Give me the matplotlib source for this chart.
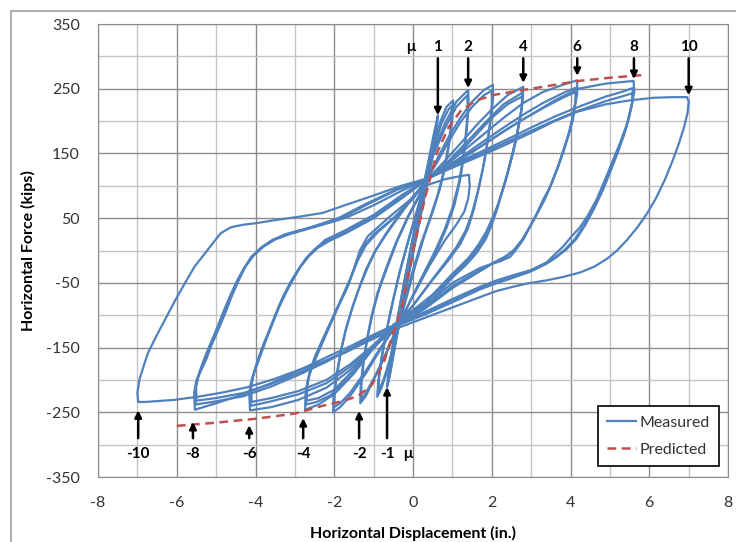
import numpy as np
import matplotlib.pyplot as plt

plt.rcParams['font.family'] = ['Lato', 'DejaVu Sans']
plt.rcParams['axes.unicode_minus'] = False

# measured hysteresis, one list of (displacement in., force kips) per cycle
c1a = [(-0.2, -60), (0.0, 0), (0.2, 65), (0.4, 130), (0.55, 180), (0.63, 209), (0.6, 185), (0.5, 145),
       (0.35, 100), (0.15, 40), (-0.05, -20), (-0.25, -80), (-0.45, -145), (-0.58, -190), (-0.66, -211),
       (-0.62, -185), (-0.5, -140), (-0.35, -90), (-0.2, -40), (0.0, 20), (0.2, 80)]
c1b = [(0.2, 80), (0.38, 135), (0.52, 178), (0.6, 200), (0.58, 178), (0.47, 140), (0.3, 90), (0.1, 30),
       (-0.1, -30), (-0.3, -95), (-0.48, -155), (-0.6, -195), (-0.63, -203), (-0.58, -175), (-0.45, -125),
       (-0.3, -75), (-0.1, -10), (0.1, 55), (0.3, 110)]
c15a = [(0.3, 110), (0.5, 160), (0.7, 200), (0.85, 222), (1.02, 232), (1.0, 205), (0.93, 170), (0.82, 130),
        (0.68, 95), (0.5, 60), (0.3, 25), (0.05, -25), (-0.2, -80), (-0.45, -140), (-0.65, -185),
        (-0.8, -212), (-0.91, -226), (-0.88, -200), (-0.8, -165), (-0.68, -125), (-0.52, -80),
        (-0.35, -35), (-0.1, 20), (0.15, 70), (0.3, 100)]
c15b = [(0.3, 100), (0.5, 152), (0.72, 196), (0.9, 218), (0.99, 224), (0.97, 198), (0.9, 162), (0.78, 122),
        (0.62, 85), (0.42, 48), (0.2, 10), (-0.05, -40), (-0.3, -100), (-0.55, -160), (-0.75, -200),
        (-0.88, -218), (-0.86, -195), (-0.77, -158), (-0.64, -115), (-0.48, -70), (-0.3, -25),
        (-0.05, 30), (0.3, 105)]
c2a = [(0.2, 90), (0.5, 150), (0.8, 195), (1.1, 230), (1.4, 248), (1.41, 225), (1.37, 190), (1.3, 150),
       (1.2, 110), (1.05, 70), (0.85, 35), (0.6, 0), (0.3, -35), (0.0, -70), (-0.4, -118), (-0.7, -160),
       (-1.0, -200), (-1.2, -225), (-1.34, -236), (-1.33, -210), (-1.27, -175), (-1.18, -140),
       (-1.05, -100), (-0.9, -65), (-0.7, -30), (-0.45, 10), (-0.15, 50), (0.2, 90)]
c2b = [(0.2, 90), (0.5, 145), (0.8, 188), (1.1, 222), (1.38, 240), (1.39, 215), (1.34, 180), (1.27, 142),
       (1.16, 104), (1.0, 66), (0.8, 32), (0.55, -2), (0.25, -38), (-0.05, -75), (-0.4, -120),
       (-0.72, -165), (-1.0, -198), (-1.2, -220), (-1.32, -230), (-1.31, -205), (-1.25, -170),
       (-1.15, -133), (-1.02, -95), (-0.86, -60), (-0.65, -25), (-0.4, 15), (-0.1, 55), (0.2, 90)]
c2c = [(-0.1, 55), (0.3, 100), (0.8, 110), (1.2, 115), (1.42, 117), (1.44, 100), (1.4, 80), (1.3, 60),
       (1.1, 40), (0.8, 15), (0.4, -25), (0.0, -70)]
c3a = [(0.3, 105), (0.6, 140), (0.9, 175), (1.2, 205), (1.5, 230), (1.8, 248), (2.03, 256), (2.03, 235),
       (1.98, 205), (1.9, 170), (1.8, 135), (1.68, 100), (1.55, 65), (1.4, 35), (1.2, 10), (0.9, -15),
       (0.5, -45), (0.0, -85), (-0.4, -112), (-0.8, -150), (-1.2, -190), (-1.6, -225), (-1.85, -242),
       (-2.03, -250), (-2.02, -225), (-1.95, -195), (-1.85, -160), (-1.72, -125), (-1.55, -90),
       (-1.38, -60), (-1.2, -30), (-1.0, -5), (-0.7, 25), (-0.3, 60), (0.3, 105)]
c3b = [(0.3, 105), (0.6, 135), (0.9, 168), (1.2, 198), (1.5, 222), (1.8, 240), (2.0, 247), (2.0, 225),
       (1.95, 195), (1.87, 160), (1.77, 125), (1.65, 92), (1.5, 58), (1.33, 30), (1.1, 5), (0.8, -20),
       (0.4, -52), (0.0, -85), (-0.4, -113), (-0.8, -148), (-1.2, -186), (-1.6, -220), (-1.85, -236),
       (-2.0, -242), (-1.99, -218), (-1.92, -188), (-1.82, -152), (-1.69, -118), (-1.52, -84),
       (-1.35, -55), (-1.15, -26), (-0.95, 0), (-0.65, 28), (-0.25, 62), (0.3, 105)]
c4a = [(0.4, 112), (0.8, 138), (1.2, 165), (1.6, 193), (2.0, 218), (2.4, 240), (2.8, 253), (2.79, 235),
       (2.75, 217), (2.67, 190), (2.59, 166), (2.48, 140), (2.38, 114), (2.25, 88), (2.13, 63), (2.0, 40),
       (1.85, 18), (1.6, -5), (1.35, -22), (1.0, -42), (0.5, -75), (0.0, -95), (-0.5, -115), (-1.0, -150),
       (-1.5, -190), (-2.0, -222), (-2.4, -238), (-2.74, -246), (-2.73, -220), (-2.67, -200),
       (-2.59, -185), (-2.41, -158), (-2.16, -123), (-1.9, -87), (-1.65, -55), (-1.5, -28), (-1.35, 0),
       (-1.15, 22), (-0.6, 52), (0.0, 82), (0.4, 112)]
c4b = [(0.4, 112), (0.9, 138), (1.4, 170), (1.9, 202), (2.3, 226), (2.78, 244), (2.77, 225), (2.72, 205),
       (2.64, 180), (2.55, 155), (2.44, 128), (2.32, 102), (2.2, 78), (2.06, 53), (1.92, 32), (1.75, 12),
       (1.5, -8), (1.2, -28), (0.8, -52), (0.3, -82), (-0.2, -100), (-0.6, -122), (-1.1, -158),
       (-1.6, -195), (-2.1, -224), (-2.45, -234), (-2.72, -238), (-2.71, -214), (-2.64, -192),
       (-2.55, -175), (-2.38, -150), (-2.12, -115), (-1.86, -80), (-1.62, -48), (-1.45, -20),
       (-1.28, 5), (-1.0, 25), (-0.5, 50), (0.0, 80), (0.4, 112)]
c4c = [(0.4, 112), (1.0, 140), (1.5, 172), (2.0, 205), (2.4, 226), (2.77, 238), (2.76, 220), (2.7, 198),
       (2.62, 172), (2.52, 146), (2.4, 120), (2.28, 95), (2.15, 70), (2.0, 48), (1.85, 28), (1.65, 8),
       (1.4, -12), (1.0, -36), (0.5, -68), (0.0, -92), (-0.5, -115), (-1.0, -146), (-1.5, -184),
       (-2.0, -215), (-2.4, -228), (-2.7, -232), (-2.69, -210), (-2.62, -188), (-2.5, -165),
       (-2.3, -138), (-2.05, -105), (-1.8, -72), (-1.58, -42), (-1.4, -15), (-1.2, 8), (-0.9, 28),
       (-0.4, 55), (0.4, 112)]
c6a = [(0.4, 112), (1.0, 140), (1.7, 175), (2.3, 205), (2.8, 228), (3.3, 245), (3.8, 256), (4.17, 263),
       (4.17, 243), (4.1, 220), (4.06, 202), (3.95, 178), (3.81, 151), (3.65, 125), (3.48, 98),
       (3.3, 78), (3.15, 58), (2.97, 37), (2.79, 16), (2.6, 0), (2.46, -10), (2.2, -17), (2.03, -20),
       (1.7, -27), (1.0, -50), (0.3, -85), (-0.4, -115), (-1.0, -150), (-1.6, -185), (-2.2, -212),
       (-2.92, -231), (-3.6, -242), (-4.14, -247), (-4.16, -220), (-4.1, -200), (-3.98, -180),
       (-3.85, -158), (-3.73, -138), (-3.55, -110), (-3.4, -87), (-3.2, -62), (-3.0, -40),
       (-2.85, -24), (-2.67, -10), (-2.45, 4), (-2.24, 16), (-1.73, 31), (-1.0, 55), (-0.3, 85),
       (0.4, 112)]
c6b = [(0.4, 112), (1.0, 135), (1.7, 165), (2.3, 190), (2.8, 210), (3.3, 228), (3.8, 243), (4.15, 252),
       (4.14, 235), (4.08, 212), (4.0, 190), (3.86, 162), (3.7, 132), (3.52, 104), (3.35, 80),
       (3.18, 60), (3.0, 40), (2.82, 20), (2.62, 4), (2.4, -8), (2.1, -17), (1.7, -30), (1.0, -55),
       (0.3, -88), (-0.4, -115), (-1.0, -148), (-1.6, -180), (-2.2, -205), (-2.9, -222), (-3.6, -233),
       (-4.12, -240), (-4.13, -215), (-4.07, -195), (-3.95, -172), (-3.82, -150), (-3.68, -128),
       (-3.5, -100), (-3.33, -75), (-3.12, -50), (-2.92, -30), (-2.72, -12), (-2.5, 2), (-2.25, 13),
       (-1.73, 28), (-1.0, 52), (-0.3, 82), (0.4, 112)]
c6c = [(0.4, 112), (1.0, 132), (1.7, 160), (2.3, 184), (2.8, 203), (3.3, 220), (3.8, 236), (4.13, 245),
       (4.12, 228), (4.05, 205), (3.96, 182), (3.82, 155), (3.66, 126), (3.48, 98), (3.3, 74),
       (3.12, 54), (2.94, 34), (2.76, 16), (2.55, 0), (2.3, -11), (2.0, -21), (1.7, -32), (1.0, -58),
       (0.3, -90), (-0.4, -116), (-1.0, -146), (-1.6, -176), (-2.2, -200), (-2.9, -217), (-3.6, -228),
       (-4.1, -234), (-4.11, -210), (-4.04, -188), (-3.92, -165), (-3.78, -142), (-3.63, -120),
       (-3.45, -93), (-3.27, -68), (-3.06, -44), (-2.86, -25), (-2.65, -9), (-2.42, 4), (-2.15, 14),
       (-1.7, 27), (-1.0, 50), (-0.3, 80), (0.4, 112)]
c8a = [(0.4, 112), (1.0, 135), (1.7, 160), (2.4, 188), (3.0, 210), (3.6, 232), (4.2, 250), (4.9, 258),
       (5.6, 262), (5.62, 245), (5.55, 225), (5.43, 195), (5.25, 165), (5.08, 140), (4.88, 110),
       (4.67, 80), (4.45, 55), (4.24, 36), (4.0, 20), (3.81, 6), (3.6, -6), (3.4, -18), (3.0, -30),
       (2.5, -39), (2.13, -46), (1.7, -56), (1.0, -75), (0.3, -95), (-0.4, -113), (-1.0, -130),
       (-1.6, -148), (-2.2, -165), (-2.9, -185), (-3.6, -205), (-4.3, -222), (-5.0, -236),
       (-5.54, -246), (-5.56, -220), (-5.5, -200), (-5.38, -185), (-5.25, -168), (-5.13, -148),
       (-4.95, -123), (-4.77, -97), (-4.6, -70), (-4.44, -48), (-4.27, -26), (-4.11, -10), (-3.86, 4),
       (-3.6, 15), (-3.25, 25), (-2.9, 31), (-2.49, 37), (-2.0, 45), (-1.65, 52), (-1.0, 70),
       (-0.3, 92), (0.4, 112)]
c8b = [(0.4, 112), (1.0, 132), (1.7, 152), (2.4, 172), (3.0, 190), (3.6, 207), (4.2, 222), (4.9, 238),
       (5.3, 245), (5.58, 251), (5.58, 232), (5.5, 210), (5.38, 183), (5.22, 155), (5.03, 125),
       (4.83, 95), (4.6, 65), (4.38, 40), (4.15, 18), (3.9, 2), (3.65, -10), (3.4, -20), (2.97, -33),
       (2.5, -42), (2.13, -49), (1.7, -58), (1.0, -78), (0.3, -97), (-0.4, -115), (-1.0, -132),
       (-1.6, -152), (-2.2, -172), (-2.9, -192), (-3.6, -210), (-4.3, -225), (-5.0, -233),
       (-5.52, -238), (-5.53, -215), (-5.46, -195), (-5.35, -175), (-5.2, -152), (-5.03, -128),
       (-4.85, -100), (-4.66, -72), (-4.48, -48), (-4.3, -28), (-4.1, -10), (-3.85, 5), (-3.55, 17),
       (-3.2, 25), (-2.8, 32), (-2.4, 40), (-1.9, 50), (-1.2, 72), (-0.4, 95), (0.4, 112)]
c8c = [(0.4, 112), (1.0, 130), (1.7, 149), (2.4, 168), (3.0, 185), (3.6, 201), (4.2, 216), (4.9, 231),
       (5.3, 238), (5.57, 243), (5.56, 226), (5.48, 204), (5.35, 178), (5.18, 150), (4.99, 120),
       (4.79, 90), (4.56, 62), (4.33, 38), (4.1, 17), (3.85, 1), (3.6, -11), (3.35, -21), (2.9, -34),
       (2.45, -44), (2.1, -51), (1.7, -60), (1.0, -80), (0.3, -99), (-0.4, -116), (-1.0, -133),
       (-1.6, -152), (-2.2, -170), (-2.9, -189), (-3.6, -206), (-4.3, -220), (-5.0, -228),
       (-5.5, -232), (-5.51, -210), (-5.43, -190), (-5.31, -170), (-5.16, -147), (-4.99, -123),
       (-4.81, -96), (-4.62, -68), (-4.44, -45), (-4.26, -25), (-4.05, -8), (-3.8, 6), (-3.5, 17),
       (-3.15, 25), (-2.75, 32), (-2.35, 39), (-1.85, 49), (-1.2, 70), (-0.4, 94), (0.4, 112)]
c10 = [(0.4, 112), (1.0, 128), (1.7, 146), (2.3, 162), (3.0, 182), (3.6, 200), (4.2, 215), (4.9, 226),
       (5.5, 232), (6.1, 236), (6.6, 237), (6.96, 237), (7.0, 230), (6.97, 212), (6.88, 190),
       (6.75, 165), (6.6, 140), (6.4, 110), (6.18, 82), (5.94, 57), (5.7, 36), (5.43, 16), (5.18, 0),
       (4.92, -13), (4.6, -25), (4.24, -34), (3.8, -41), (3.4, -46), (2.9, -51), (2.54, -56),
       (2.1, -63), (1.7, -72), (1.0, -88), (0.3, -104), (-0.4, -120), (-1.0, -136), (-1.73, -158),
       (-2.3, -172), (-2.92, -185), (-3.5, -198), (-4.19, -211), (-4.8, -219), (-5.46, -226),
       (-6.1, -231), (-6.8, -234), (-6.98, -234), (-7.0, -220), (-6.95, -200), (-6.85, -180),
       (-6.73, -158), (-6.5, -130), (-6.3, -107), (-6.05, -78), (-5.79, -50), (-5.55, -25),
       (-5.28, -4), (-5.05, 14), (-4.88, 27), (-4.62, 36), (-4.3, 40), (-4.01, 42), (-3.5, 47),
       (-2.92, 52), (-2.3, 58), (-1.73, 70), (-1.0, 85), (-0.3, 100), (0.4, 112)]
cycles = [c1a, c1b, c15a, c15b, c2a, c2b, c2c, c3a, c3b, c4a, c4b, c4c,
          c6a, c6b, c6c, c8a, c8b, c8c, c10]

# predicted backbone
pred_x = [-6.0, -5.0, -4.0, -3.0, -2.3, -1.8, -1.4, -1.05, -0.75, -0.5, -0.3, 0.0,
          0.3, 0.6, 0.9, 1.2, 1.6, 2.1, 2.8, 3.5, 4.2, 5.0, 5.8]
pred_y = [-271, -266, -260, -252, -240, -233, -225, -208, -174, -127, -92, 0,
          80, 150, 190, 215, 232, 241, 248, 255, 262, 267, 271]

# ductility arrows
pos_labels = ['1', '2', '4', '6', '8', '10']
pos_x = [0.63, 1.40, 2.80, 4.17, 5.61, 7.0]
pos_tip = [209, 251, 259, 270, 265, 240]
neg_labels = ['-10', '-8', '-6', '-4', '-2', '-1']
neg_x = [-6.98, -5.59, -4.16, -2.79, -1.37, -0.66]
neg_tip = [-247, -265, -270, -259, -248, -211]

fig = plt.figure(figsize=(7.36, 5.42), dpi=100)
ax = fig.add_axes([0.1332, 0.1199, 0.856, 0.8358])

blue = '#4F81BD'
for i, c in enumerate(cycles):
    xy = np.array(c)
    ax.plot(xy[:, 0], xy[:, 1], color=blue, lw=1.6, zorder=3,
            label='Measured' if i == 0 else None)
ax.plot(pred_x, pred_y, color='#C0504D', lw=1.8, ls=(0, (3.5, 2.2)), zorder=4, label='Predicted')

ap = dict(arrowstyle='-|>', color='black', lw=1.8, mutation_scale=10, shrinkA=0, shrinkB=0)
for lab, x, tip in zip(pos_labels, pos_x, pos_tip):
    ax.annotate('', xy=(x, tip), xytext=(x, 297), arrowprops=ap, zorder=5)
    ax.text(x, 314, lab, ha='center', va='center', fontsize=11, fontweight='bold')
for lab, x, tip in zip(neg_labels, neg_x, neg_tip):
    ax.annotate('', xy=(x, tip), xytext=(x, -290), arrowprops=ap, zorder=5)
    ax.text(x, -314, lab, ha='center', va='center', fontsize=11, fontweight='bold')
ax.text(-0.05, 314, 'μ', ha='center', va='center', fontsize=11, fontweight='bold')
ax.text(-0.13, -314, 'μ', ha='center', va='center', fontsize=11, fontweight='bold')

ax.set_xlim(-8, 8)
ax.set_ylim(-350, 350)
ax.set_xticks(np.arange(-8, 9, 2))
ax.set_xticks(np.arange(-7, 8, 2), minor=True)
ax.set_yticks(np.arange(-350, 351, 100))
ax.set_yticks(np.arange(-300, 301, 100), minor=True)
ax.grid(which='major', color='#8C8C8C', lw=1.0, zorder=0)
ax.grid(which='minor', color='#C4C4C4', lw=1.0, zorder=0)
ax.set_axisbelow(True)
ax.tick_params(which='both', length=0)
ax.tick_params(axis='x', pad=14, labelsize=11.5, labelcolor='#333333')
ax.tick_params(axis='y', pad=13, labelsize=11.5, labelcolor='#333333')
for s in ax.spines.values():
    s.set_color('#8C8C8C')

ax.set_xlabel('Horizontal Displacement (in.)', fontweight='bold', fontsize=11.5)
ax.set_ylabel('Horizontal Force (kips)', fontweight='bold', fontsize=11.5)
ax.xaxis.set_label_coords(0.5, -0.124)
ax.yaxis.set_label_coords(-0.111, 0.5)
ax.xaxis.label.set_va('center')
ax.yaxis.label.set_va('center')

leg = ax.legend(loc='lower right', bbox_to_anchor=(0.986, 0.024), borderaxespad=0,
                fancybox=False, edgecolor='black', framealpha=1, fontsize=11.5,
                handlelength=1.8, handletextpad=0.2, labelspacing=0.8, borderpad=0.6,
                labelcolor='#333333')
leg.get_frame().set_linewidth(1.2)

# outer chart border
fig.patches.append(plt.Rectangle((0.015, -0.1), 1.2, 1.08, transform=fig.transFigure,
                                 fill=False, edgecolor='#A0A0A0', lw=1.2))

fig.savefig('out.png', dpi=100)
